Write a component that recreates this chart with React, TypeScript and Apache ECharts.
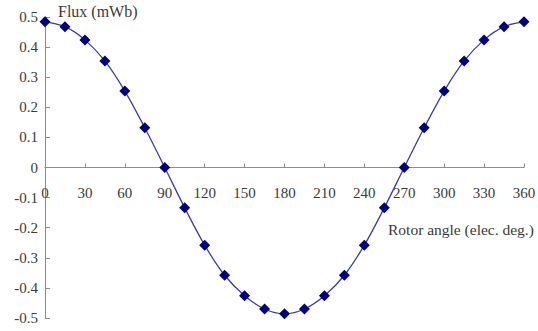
import React, { useEffect, useRef } from "react";
import * as echarts from "echarts";

const angles = [0, 15, 30, 45, 60, 75, 90, 105, 120, 135, 150, 165, 180, 195, 210, 225, 240, 255, 270, 285, 300, 315, 330, 345, 360];
const flux = [0.484, 0.468, 0.424, 0.354, 0.254, 0.132, 0, -0.134, -0.258, -0.358, -0.426, -0.47, -0.486, -0.47, -0.426, -0.358, -0.258, -0.134, 0, 0.132, 0.254, 0.354, 0.424, 0.468, 0.484];
const yTitle = "Flux (mWb)";
const xTitle = "Rotor angle (elec. deg.)";

const FONT = "'Liberation Serif', 'Times New Roman', serif";

export default function App() {
  const ref = useRef<HTMLDivElement>(null);
  useEffect(() => {
    if (!ref.current) return;
    const chart = echarts.init(ref.current, undefined, { renderer: "svg" });
    chart.setOption({
      animation: false,
      backgroundColor: "#ffffff",
      grid: { left: 45, right: 14, top: 17, bottom: 13, containLabel: false, outerBoundsMode: "none" },
      xAxis: {
        type: "value",
        min: 0,
        max: 360,
        interval: 30,
        position: "bottom",
        offset: -150.5,
        axisLine: { onZero: false, lineStyle: { color: "#8c8c8c", width: 1 } },
        axisTick: { show: true, inside: true, length: 4, lineStyle: { color: "#8c8c8c" } },
        axisLabel: { margin: 18, color: "#3a3a3a", fontFamily: FONT, fontSize: 15 },
        splitLine: { show: false },
      },
      yAxis: {
        type: "value",
        min: -0.5,
        max: 0.5,
        interval: 0.1,
        axisLine: { show: true, onZero: false, lineStyle: { color: "#8c8c8c", width: 1 } },
        axisTick: { show: true, inside: true, length: 5, lineStyle: { color: "#8c8c8c" } },
        axisLabel: {
          margin: 7,
          color: "#3a3a3a",
          fontFamily: FONT,
          fontSize: 15,
          formatter: (v: number) => {
            const r = Math.round(v * 10) / 10;
            return r === 0 ? "0" : String(r);
          },
        },
        splitLine: { show: false },
      },
      graphic: [
        { type: "text", left: 58, top: 3, style: { text: yTitle, fill: "#3a3a3a", font: `16px ${FONT}` } },
        { type: "text", left: 388, top: 221, style: { text: xTitle, fill: "#3a3a3a", font: `15.5px ${FONT}` } },
      ],
      series: [
        {
          type: "line",
          data: angles.map((a, i) => [a, flux[i]]),
          smooth: 0.35,
          symbol: "diamond",
          symbolSize: 11,
          itemStyle: { color: "#000080" },
          lineStyle: { color: "#3c3ca8", width: 1.3 },
        },
      ],
    });
    return () => chart.dispose();
  }, []);
  return <div ref={ref} style={{ position: "fixed", left: 0, top: 0, width: 538, height: 331 }} />;
}
